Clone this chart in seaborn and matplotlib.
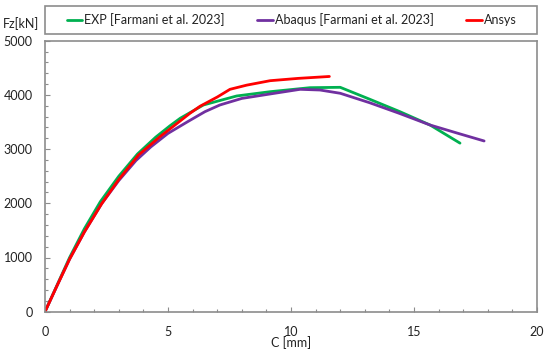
import matplotlib
matplotlib.use("Agg")
import matplotlib.pyplot as plt
from matplotlib.patches import Rectangle
from matplotlib.ticker import MultipleLocator
import seaborn as sns
import pandas as pd

# ---- data ----
exp_x = [0, 0.5, 1.0, 1.6, 2.25, 3.0, 3.76, 4.5, 5.08, 5.5, 6.44, 7.79, 9.15, 10.77, 12.0, 13.2, 14.43, 15.65, 16.87]
exp_y = [0, 500, 1000, 1530, 2030, 2500, 2910, 3220, 3430, 3570, 3814, 3980, 4059, 4133, 4140, 3920, 3690, 3445, 3110]

abaqus_x = [0, 0.5, 1.0, 1.6, 2.3, 3.0, 3.7, 4.3, 5.0, 5.8, 6.5, 7.11, 8.0, 9.15, 10.37, 11.18, 12.0, 13.2, 14.4, 15.65, 16.87, 17.85]
abaqus_y = [0, 490, 970, 1470, 1990, 2420, 2790, 3040, 3290, 3506, 3690, 3814, 3935, 4017, 4103, 4090, 4030, 3855, 3660, 3445, 3280, 3150]

ansys_x = [0, 0.5, 1.0, 1.6, 2.3, 3.0, 3.8, 4.67, 5.3, 5.89, 6.3, 7.0, 7.52, 8.2, 9.15, 10.3, 11.56]
ansys_y = [0, 490, 970, 1470, 1990, 2440, 2890, 3229, 3450, 3660, 3790, 3960, 4103, 4180, 4262, 4305, 4340]

series_names = ["EXP [Farmani et al. 2023]", "Abaqus [Farmani et al. 2023]", "Ansys"]
series_colors = ["#00B050", "#7030A0", "#FF0000"]

x_label = "C [mm]"
y_label = "Fz[kN]"

# ---- build long table ----
frames = []
for name, xs, ys in zip(series_names, [exp_x, abaqus_x, ansys_x], [exp_y, abaqus_y, ansys_y]):
    frames.append(pd.DataFrame({"x": xs, "y": ys, "series": name}))
df = pd.concat(frames, ignore_index=True)

sns.set_theme(style="white")
plt.rcParams["font.family"] = ["Lato", "DejaVu Sans"]

fig = plt.figure(figsize=(5.5, 3.5), dpi=100)
ax = fig.add_axes([45 / 550, 1 - 311.7 / 350, (537 - 45) / 550, (311.7 - 40.7) / 350])

sns.lineplot(data=df, x="x", y="y", hue="series", hue_order=series_names,
             palette=dict(zip(series_names, series_colors)), sort=False,
             estimator=None, linewidth=2.0, ax=ax, legend=False)

ax.set_xlim(0, 20)
ax.set_ylim(0, 5000)
ax.xaxis.set_major_locator(MultipleLocator(5))
ax.xaxis.set_minor_locator(MultipleLocator(1))
ax.yaxis.set_major_locator(MultipleLocator(1000))
ax.yaxis.set_minor_locator(MultipleLocator(200))

spine_color = "#8C8C8C"
for s in ax.spines.values():
    s.set_visible(True)
    s.set_color(spine_color)
    s.set_linewidth(1.2)

ax.tick_params(axis="both", which="both", direction="in", color=spine_color,
               width=0.8, labelsize=9, labelcolor="#222222")
ax.tick_params(axis="both", which="major", length=3.5)
ax.tick_params(axis="both", which="minor", length=2.5)
ax.tick_params(axis="x", which="major", pad=10)
ax.tick_params(axis="y", which="major", pad=9)
ax.tick_params(axis="both", which="both", bottom=True, left=True, top=False, right=False)

ax.set_xlabel(x_label, fontsize=9, color="#222222", labelpad=-1)
ax.set_ylabel("")
fig.text(20.5 / 550, 1 - 24 / 350, y_label, fontsize=9, color="#222222",
         ha="center", va="center")

# legend box above the plot
rect = Rectangle((45 / 550, 1 - 34 / 350), (537 - 45) / 550, 28 / 350,
                 transform=fig.transFigure, fill=False, edgecolor=spine_color,
                 linewidth=1.2)
fig.add_artist(rect)
handles = ax.get_lines()[:3]
fig.legend(handles, series_names, loc="center", ncol=3,
           bbox_to_anchor=(291.5 / 550, 1 - 20 / 350), frameon=False,
           fontsize=9, handlelength=1.25, handletextpad=0.15,
           columnspacing=2.6, labelcolor="#222222")

fig.savefig("out.png", dpi=100)
